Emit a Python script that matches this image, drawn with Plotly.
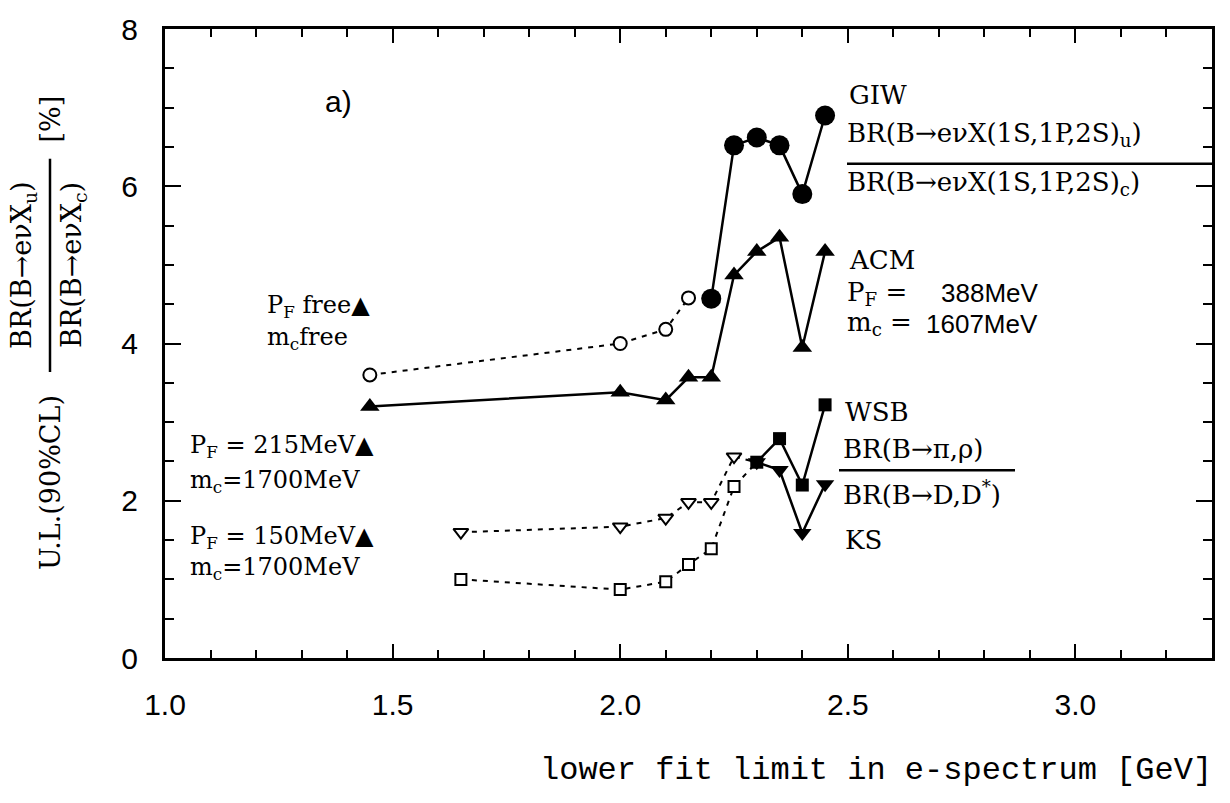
import plotly.graph_objects as go

# ---- data -------------------------------------------------------------
# GIW: open circles (dotted) for low cuts, filled circles (solid) above
giw_open_x = [1.45, 2.0, 2.1, 2.15]
giw_open_y = [3.6, 4.0, 4.18, 4.58]
giw_x = [2.2, 2.25, 2.3, 2.35, 2.4, 2.45]
giw_y = [4.57, 6.52, 6.62, 6.52, 5.9, 6.9]

# ACM: filled triangles, solid line
acm_x = [1.45, 2.0, 2.1, 2.15, 2.2, 2.25, 2.3, 2.35, 2.4, 2.45]
acm_y = [3.2, 3.38, 3.28, 3.57, 3.57, 4.87, 5.17, 5.35, 3.95, 5.17]

# WSB: open squares (dotted), filled squares (solid)
wsb_open_x = [1.65, 2.0, 2.1, 2.15, 2.2, 2.25]
wsb_open_y = [1.0, 0.87, 0.97, 1.19, 1.39, 2.18]
wsb_x = [2.3, 2.35, 2.4, 2.45]
wsb_y = [2.49, 2.79, 2.2, 3.22]

# KS: open down-triangles (dotted), filled down-triangles (solid)
ks_open_x = [1.65, 2.0, 2.1, 2.15, 2.2, 2.25]
ks_open_y = [1.6, 1.67, 1.78, 1.98, 1.98, 2.56]
ks_x = [2.3, 2.35, 2.4, 2.45]
ks_y = [2.49, 2.39, 1.59, 2.21]

x_ticks = [1.0, 1.5, 2.0, 2.5, 3.0]
x_tick_text = ["1.0", "1.5", "2.0", "2.5", "3.0"]
y_ticks = [0, 2, 4, 6, 8]

# ---- page geometry ------------------------------------------------------
W, H = 1230, 803
ML, MR, MT, MB = 165, 18, 18, 145
PW, PH = W - ML - MR, H - MT - MB


def px(x):
    return (x - ML) / PW


def py(y):
    return (H - MB - y) / PH


BLACK = "black"
SERIF = "DejaVu Serif"
SANS = "Liberation Sans"
DASH = "5px,6px"

fig = go.Figure()


def dotted_then_solid(ox, oy, fx, fy, sym, open_size, fill_size):
    # dotted segment runs up to the first filled point
    fig.add_trace(go.Scatter(x=ox + fx[:1], y=oy + fy[:1], mode="lines",
                             line=dict(color=BLACK, width=2, dash=DASH),
                             hoverinfo="skip", showlegend=False))
    fig.add_trace(go.Scatter(x=ox, y=oy, mode="markers",
                             marker=dict(symbol=sym, size=open_size, color="white",
                                         line=dict(color=BLACK, width=2)),
                             showlegend=False))
    fig.add_trace(go.Scatter(x=fx, y=fy, mode="lines+markers",
                             line=dict(color=BLACK, width=2.5),
                             marker=dict(symbol=sym, size=fill_size, color=BLACK),
                             showlegend=False))


dotted_then_solid(giw_open_x, giw_open_y, giw_x, giw_y, "circle", 13, 20)
dotted_then_solid(wsb_open_x, wsb_open_y, wsb_x, wsb_y, "square", 11, 13)
dotted_then_solid(ks_open_x, ks_open_y, ks_x, ks_y, "triangle-down", 13, 16)

fig.add_trace(go.Scatter(x=acm_x, y=acm_y, mode="lines+markers",
                         line=dict(color=BLACK, width=2.5),
                         marker=dict(symbol="triangle-up", size=17, color=BLACK),
                         showlegend=False))

# ---- annotations -------------------------------------------------------
ann = []
shapes = []


def label(text, x, y, size=26, font=SERIF, xanchor="left", angle=0):
    ann.append(dict(text=text, x=px(x), y=py(y), xref="paper", yref="paper",
                    xanchor=xanchor, yanchor="middle", showarrow=False, textangle=angle,
                    font=dict(family=font, size=size, color=BLACK)))


def bar(x0, x1, y0, y1, width=2.5):
    shapes.append(dict(type="line", xref="paper", yref="paper",
                       x0=px(x0), x1=px(x1), y0=py(y0), y1=py(y1),
                       line=dict(color=BLACK, width=width)))


label("a)", 323, 92, size=30, font=SANS)

# GIW block
label("GIW", 847, 85)
label("BR(B→eνX(1S,1P,2S)<sub>u</sub>)", 845, 125)
bar(847, 1212, 155, 155)
label("BR(B→eνX(1S,1P,2S)<sub>c</sub>)", 845, 175)

# ACM block
label("ACM", 847, 253)
label("P<sub>F</sub> =", 845, 287)
label("388MeV", 1040, 287, font=SANS, xanchor="right")
label("m<sub>c</sub> =", 845, 318)
label("1607MeV", 1040, 318, font=SANS, xanchor="right")

# WSB / KS block
label("WSB", 843, 408)
label("BR(B→π,ρ)", 841, 445)
bar(839, 1015, 467, 467)
label("BR(B→D,D<sup>*</sup>)", 841, 490)
label("KS", 843, 538)

# parameter labels on the left
label("P<sub>F</sub> free▲", 265, 300, size=24)
label("m<sub>c</sub>free", 265, 333, size=24)
label("P<sub>F</sub> = 215MeV▲", 188, 443, size=24)
label("m<sub>c</sub>=1700MeV", 188, 478, size=24)
label("P<sub>F</sub> = 150MeV▲", 188, 535, size=24)
label("m<sub>c</sub>=1700MeV", 188, 567, size=24)

# vertical axis title: U.L.(90%CL) × fraction × [%]
label("U.L.(90%CL)", 50, 480, size=27, xanchor="center", angle=-90)
label("BR(B→eνX<sub>u</sub>)", 24, 258, size=27, xanchor="center", angle=-90)
bar(50, 50, 367, 150)
label("BR(B→eνX<sub>c</sub>)", 74, 258, size=27, xanchor="center", angle=-90)
label("[%]", 50, 110, size=27, xanchor="center", angle=-90)

# horizontal axis title
ann.append(dict(text="lower fit limit in e-spectrum [GeV]", x=px(1214), y=py(772),
                xref="paper", yref="paper", xanchor="right", yanchor="middle",
                showarrow=False, font=dict(family="Liberation Mono", size=32, color=BLACK)))

axis_common = dict(showline=True, linecolor=BLACK, linewidth=3, mirror="allticks",
                   ticks="inside", tickcolor=BLACK, tickwidth=2, showgrid=False,
                   zeroline=False)

fig.update_layout(
    width=W, height=H,
    margin=dict(l=ML, r=MR, t=MT, b=MB),
    paper_bgcolor="white", plot_bgcolor="white",
    showlegend=False,
    annotations=ann, shapes=shapes,
    xaxis=dict(range=[1.0, 3.3], tickvals=x_ticks, ticktext=x_tick_text, ticklen=14,
               minor=dict(ticks="inside", dtick=0.1, ticklen=8, tickcolor=BLACK, tickwidth=2),
               tickfont=dict(family=SANS, size=30, color=BLACK), ticklabelstandoff=18,
               **axis_common),
    yaxis=dict(range=[0, 8], tickvals=y_ticks, ticklen=16,
               minor=dict(ticks="inside", dtick=0.5, ticklen=9, tickcolor=BLACK, tickwidth=2),
               tickfont=dict(family=SANS, size=30, color=BLACK), ticklabelstandoff=18,
               **axis_common),
)

fig.write_html("out.html")
